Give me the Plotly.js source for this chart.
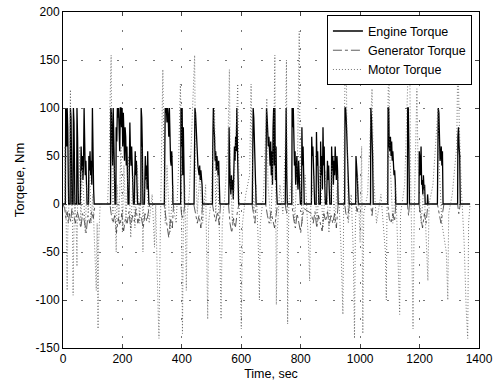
<!DOCTYPE html>
<html>
<head>
<meta charset="utf-8">
<script src="https://cdn.plot.ly/plotly-3.0.1.min.js"></script>
<style>html,body{margin:0;padding:0;background:#fff}#chart{width:497px;height:383px}</style>
</head>
<body>
<div id="chart"></div>
<script>
// Engine torque (time sec, Nm)
var engineT = [0,8,9,11,13,14,16,18,19,24,25,27,29,30,34,35,37,39,40,46,47,49,51,52,58,59,61,63,65,67,69,71,73,75,77,79,81,86,87,89,91,93,95,97,99,101,103,105,
160,161,163,165,167,169,171,173,175,178,179,181,183,185,187,189,191,193,195,197,199,201,203,205,207,209,211,213,215,217,219,222,223,225,227,229,231,233,235,237,240,241,243,245,247,249,251,262,263,265,267,269,274,275,277,279,281,283,285,287,289,
341,342,344,346,348,350,352,354,356,358,360,362,364,366,368,370,396,397,399,401,403,405,407,409,441,442,444,446,448,450,452,454,456,458,460,462,464,466,468,470,
503,504,506,508,510,512,514,516,518,520,522,524,526,528,558,559,561,563,565,567,569,571,573,575,577,579,581,583,585,587,589,591,637,638,640,642,644,646,648,650,
682,683,685,687,689,691,693,695,697,699,701,703,705,707,709,711,713,715,717,719,721,748,749,751,753,755,770,771,773,775,777,779,781,783,785,787,789,791,793,795,797,799,
803,804,806,808,810,812,836,837,839,841,843,845,847,852,853,855,857,859,861,866,867,869,871,873,875,877,879,881,883,887,888,890,892,894,896,898,
903,904,906,908,910,912,914,916,918,920,922,924,926,948,949,951,953,955,957,959,961,963,985,986,988,990,992,994,1035,1036,1038,1040,1042,1044,
1093,1094,1096,1098,1100,1102,1104,1106,1108,1110,1112,1114,1116,1118,1120,1159,1160,1162,1164,1166,1198,1199,1201,1203,1205,1207,1209,1211,1213,1215,1217,1219,1226,1227,1229,
1260,1261,1263,1265,1267,1269,1271,1273,1275,1277,1279,1328,1329,1331,1333,1335,1337,1370];
var engineTq = [0,0,100,95,60,100,80,20,0,0,100,90,40,0,0,100,85,30,0,0,100,70,20,0,0,45,60,35,50,25,40,100,55,30,45,20,0,0,50,35,55,30,45,20,100,30,15,0,
0,100,95,70,40,100,60,30,0,0,80,65,100,90,100,70,55,100,100,80,100,60,95,75,45,80,70,40,60,30,0,0,70,85,55,40,60,35,20,0,0,40,55,30,45,20,0,0,100,90,60,0,0,30,50,25,40,15,55,20,0,
0,100,100,95,100,85,100,90,70,100,60,45,40,55,35,0,0,100,60,100,30,80,20,0,0,100,100,95,80,60,45,40,35,30,40,25,35,30,20,0,
0,60,100,80,70,45,55,35,50,40,30,45,20,0,0,80,40,20,10,30,15,25,5,35,60,45,70,55,100,60,40,0,0,100,100,90,70,50,20,0,
0,100,100,90,80,60,70,50,40,65,30,55,20,80,100,40,100,25,60,15,0,0,100,100,30,0,0,100,80,100,60,40,55,20,35,50,25,15,45,30,10,0,
0,80,40,60,20,0,0,70,50,60,45,30,0,0,75,40,55,20,0,0,65,30,50,15,80,40,60,20,0,0,30,45,25,40,15,0,
0,60,35,50,20,45,30,60,40,25,50,35,0,0,100,100,90,70,55,45,35,0,0,50,40,30,15,0,0,100,90,70,50,0,
0,100,100,60,55,70,50,65,45,55,40,30,35,25,0,0,100,100,60,0,0,55,45,30,60,20,25,10,30,15,20,0,0,10,0,
0,100,100,95,60,45,50,60,40,55,0,0,70,80,60,50,0,0];

// Generator torque
var genT = [0,6,10,14,18,22,26,30,36,42,48,54,60,66,72,78,84,90,96,102,108,158,162,168,174,180,186,192,198,204,210,216,222,228,234,240,246,252,258,264,270,276,282,288,292,
340,344,350,356,362,368,372,396,400,406,410,440,446,452,458,464,470,503,508,514,520,526,530,557,562,568,574,580,586,592,636,640,646,650,
682,688,694,700,706,712,718,722,748,752,756,770,776,782,788,794,800,806,812,836,842,848,854,860,866,872,878,884,890,896,902,908,914,920,926,
948,952,958,964,985,990,994,1035,1040,1044,1093,1098,1104,1110,1116,1120,1159,1163,1166,1198,1204,1210,1216,1222,1228,1260,1266,1272,1278,1282,1328,1332,1337,1370];
var genTq = [0,-5,-15,-8,-20,-10,-18,-5,-12,-20,-8,-15,-25,-10,-18,-30,-12,-20,-8,-15,0,0,-10,-20,-12,-30,-15,-22,-10,-28,-15,-20,-8,-25,-12,-18,-5,-20,-10,-15,-25,-10,-18,-5,0,
0,-10,-20,-35,-15,-25,0,0,-15,-10,0,0,-10,-20,-12,-25,0,0,-10,-18,-8,-22,0,0,-20,-30,-15,-25,-10,0,0,-10,-20,0,
0,-12,-20,-8,-15,-25,-10,0,0,-10,0,0,-15,-25,-10,-20,-30,-12,-5,-10,-20,-8,-25,-12,-20,-28,-10,-18,-8,-22,-12,-20,-10,-25,0,
0,-10,-15,0,0,-8,0,0,-12,0,0,-15,-20,-10,-18,0,0,-12,0,0,-15,-25,-10,-20,0,0,-10,-20,-8,0,0,-10,0,0];

// Motor torque
var motorT = [0,5,7,9,12,14,16,20,25,27,32,34,36,40,45,47,49,55,57,60,65,70,75,80,85,90,95,100,108,112,115,118,120,125,150,155,158,162,164,168,172,176,179,182,188,195,200,205,212,220,228,235,242,250,258,265,269,272,280,290,300,308,312,320,323,326,330,336,339,344,350,360,370,375,
381,388,395,398,400,402,405,410,415,418,425,437,443,446,452,460,470,480,484,487,490,500,506,510,514,520,528,532,536,545,555,560,563,570,580,588,592,597,600,604,615,628,633,636,642,650,657,661,664,675,683,686,690,700,
705,710,713,716,718,721,730,740,748,752,754,756,760,770,780,790,795,798,805,815,826,830,834,845,855,865,875,885,895,905,915,925,935,942,946,952,955,960,970,977,981,984,992,1000,1005,1009,1012,1025,1040,1045,1055,
1070,1085,1088,1091,1096,1100,1110,1120,1129,1133,1136,1150,1161,1166,1170,1175,1178,1182,1191,1195,1205,1215,1224,1228,1232,1245,1262,1266,1275,1290,1295,1298,1310,1325,1329,1333,1340,1350,1357,1362,1365,1370];
var motorTq = [0,0,60,20,-40,-90,-30,0,119,30,-20,-95,-40,10,-30,-65,0,30,60,-20,40,10,-30,20,-10,30,-20,10,-50,-90,-20,-130,-40,0,0,40,100,155,60,-10,40,-30,-50,20,-20,60,-30,40,-20,50,-35,30,-25,40,-20,60,-50,10,30,-20,10,-45,0,-110,-140,-60,20,140,60,-20,40,-30,20,-10,
-20,30,125,80,-60,-135,-30,20,-90,-10,10,100,155,40,-10,30,-20,20,-60,-120,-20,10,80,100,-10,40,-50,-120,-20,10,60,140,40,-20,50,125,20,-60,-130,-20,10,30,125,60,-10,20,-40,-100,-20,10,100,110,20,-20,
40,80,155,30,-105,-30,20,-10,60,150,-30,-125,0,30,-20,60,180,40,-20,30,-40,-80,0,30,-20,40,-25,35,-30,40,-20,30,-40,-115,60,195,90,-20,10,-50,-140,-20,30,-40,60,-135,-10,10,120,30,-20,
10,-50,-100,20,160,50,-20,20,-60,-115,-10,20,135,185,30,-60,-130,-10,120,40,-20,20,-40,-80,0,20,100,40,-20,-50,-100,-10,10,60,160,90,20,-40,-110,-140,-20,0];

var xTicks = [0,200,400,600,800,1000,1200,1400];
var yTicks = [-150,-100,-50,0,50,100,150,200];

var traces = [
  {x: engineT, y: engineTq, name: 'Engine Torque', type: 'scatter', mode: 'lines',
   line: {color: '#000', width: 1.3}},
  {x: genT, y: genTq, name: 'Generator Torque', type: 'scatter', mode: 'lines',
   line: {color: '#333', width: 0.8, dash: 'dashdot'}},
  {x: motorT, y: motorTq, name: 'Motor Torque', type: 'scatter', mode: 'lines',
   line: {color: '#555', width: 0.8, dash: '1px,2px'}}
];

var fam = 'Liberation Sans, Arial, sans-serif';
var layout = {
  width: 497, height: 383,
  margin: {l: 63, r: 18, t: 12, b: 35},
  paper_bgcolor: '#fff', plot_bgcolor: '#fff',
  font: {family: fam, size: 12, color: '#000'},
  showlegend: true,
  legend: {x: 0.983, xanchor: 'right', y: 0.99, yanchor: 'top', bgcolor: '#fff',
           bordercolor: '#000', borderwidth: 1, font: {family: fam, size: 12.5, color: '#000'},
           tracegroupgap: 0, itemwidth: 30},
  xaxis: {range: [0, 1400], tickvals: xTicks, ticktext: xTicks.map(String), ticks: 'inside', ticklen: 4,
          showline: true, linecolor: '#000', linewidth: 1, mirror: 'ticks', zeroline: false,
          showgrid: true, gridcolor: '#777', gridwidth: 1, griddash: '2px,16px',
          title: {text: 'Time, sec', font: {size: 12.5}, standoff: 3}, tickfont: {size: 12}},
  yaxis: {range: [-150, 200], tickvals: yTicks, ticktext: yTicks.map(String), ticks: 'inside', ticklen: 4,
          showline: true, linecolor: '#000', linewidth: 1, mirror: 'ticks', zeroline: false,
          showgrid: true, gridcolor: '#777', gridwidth: 1, griddash: '2px,16px',
          title: {text: 'Torqeue, Nm', font: {size: 13}, standoff: 8}, tickfont: {size: 12}}
};
Plotly.newPlot('chart', traces, layout, {displayModeBar: false, staticPlot: true});
</script>
</body>
</html>
